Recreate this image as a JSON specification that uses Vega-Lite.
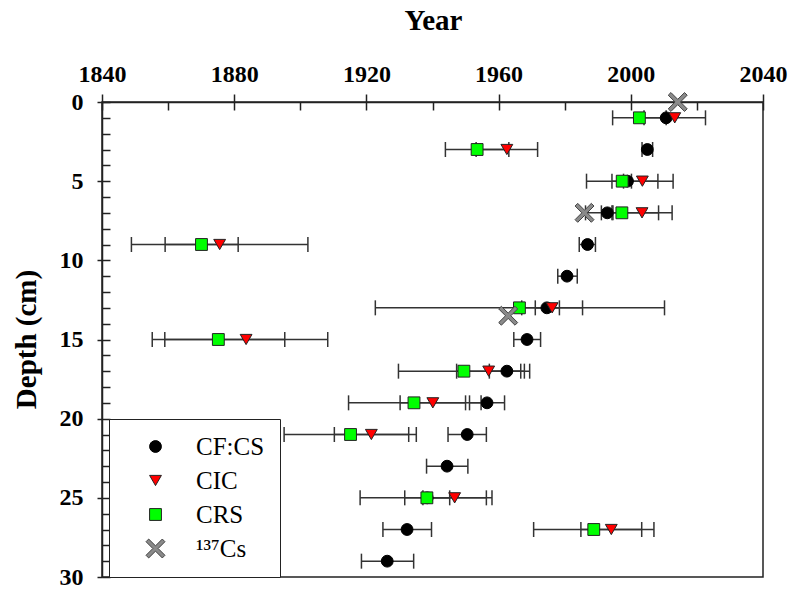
{
  "$schema": "https://vega.github.io/schema/vega-lite/v6.json",
  "width": 661,
  "height": 475,
  "autosize": {"type": "none"},
  "padding": {"left": 102, "top": 102, "right": 29, "bottom": 13},
  "background": "white",
  "config": {
    "view": {"stroke": "#222", "strokeWidth": 1.5},
    "font": "Liberation Serif",
    "axis": {"grid": false, "domainColor": "#222", "domainWidth": 1.5, "tickColor": "#222", "tickWidth": 1.5, "labelColor": "black", "titleColor": "black"}
  },
  "data": {"values": [
    {"series": "CF:CS", "depth": 1, "year": 2010.7, "lo": null, "hi": null},
    {"series": "CF:CS", "depth": 3, "year": 2005.0, "lo": 2003.4, "hi": 2006.6},
    {"series": "CF:CS", "depth": 5, "year": 1999.0, "lo": 1997.8, "hi": 2000.2},
    {"series": "CF:CS", "depth": 7, "year": 1992.9, "lo": 1991.1, "hi": 1994.6},
    {"series": "CF:CS", "depth": 9, "year": 1986.9, "lo": 1984.4, "hi": 1989.3},
    {"series": "CF:CS", "depth": 11, "year": 1980.7, "lo": 1977.9, "hi": 1983.8},
    {"series": "CF:CS", "depth": 13, "year": 1974.6, "lo": 1971.1, "hi": 1978.4},
    {"series": "CF:CS", "depth": 15, "year": 1968.6, "lo": 1964.6, "hi": 1972.7},
    {"series": "CF:CS", "depth": 17, "year": 1962.5, "lo": 1957.2, "hi": 1967.8},
    {"series": "CF:CS", "depth": 19, "year": 1956.5, "lo": 1951.2, "hi": 1961.8},
    {"series": "CF:CS", "depth": 21, "year": 1950.5, "lo": 1944.7, "hi": 1956.3},
    {"series": "CF:CS", "depth": 23, "year": 1944.4, "lo": 1938.2, "hi": 1950.7},
    {"series": "CF:CS", "depth": 25, "year": 1938.4, "lo": 1931.6, "hi": 1945.2},
    {"series": "CF:CS", "depth": 27, "year": 1932.3, "lo": 1925.0, "hi": 1939.7},
    {"series": "CF:CS", "depth": 29, "year": 1926.3, "lo": 1918.5, "hi": 1934.3},
    {"series": "CIC", "depth": 1, "year": 2013.3, "lo": 2004.0, "hi": 2022.6},
    {"series": "CIC", "depth": 3, "year": 1962.5, "lo": 1953.2, "hi": 1971.8},
    {"series": "CIC", "depth": 5, "year": 2003.5, "lo": 1994.3, "hi": 2012.8},
    {"series": "CIC", "depth": 7, "year": 2003.4, "lo": 1994.3, "hi": 2012.5},
    {"series": "CIC", "depth": 9, "year": 1875.6, "lo": 1848.9, "hi": 1902.3},
    {"series": "CIC", "depth": 13, "year": 1976.2, "lo": 1967.0, "hi": 1985.4},
    {"series": "CIC", "depth": 15, "year": 1883.6, "lo": 1859.0, "hi": 1908.3},
    {"series": "CIC", "depth": 17, "year": 1957.0, "lo": 1947.3, "hi": 1966.7},
    {"series": "CIC", "depth": 19, "year": 1940.1, "lo": 1930.2, "hi": 1950.0},
    {"series": "CIC", "depth": 21, "year": 1921.5, "lo": 1910.3, "hi": 1932.8},
    {"series": "CIC", "depth": 25, "year": 1946.7, "lo": 1937.1, "hi": 1956.3},
    {"series": "CIC", "depth": 27, "year": 1994.1, "lo": 1984.9, "hi": 2003.3},
    {"series": "CRS", "depth": 1, "year": 2002.6, "lo": 1994.5, "hi": 2010.7},
    {"series": "CRS", "depth": 3, "year": 1953.5, "lo": 1943.9, "hi": 1963.1},
    {"series": "CRS", "depth": 5, "year": 1997.4, "lo": 1986.6, "hi": 2008.2},
    {"series": "CRS", "depth": 7, "year": 1997.3, "lo": 1986.3, "hi": 2008.4},
    {"series": "CRS", "depth": 9, "year": 1870.1, "lo": 1859.1, "hi": 1881.2},
    {"series": "CRS", "depth": 13, "year": 1966.3, "lo": 1922.7, "hi": 2010.2},
    {"series": "CRS", "depth": 15, "year": 1875.2, "lo": 1855.2, "hi": 1895.3},
    {"series": "CRS", "depth": 17, "year": 1949.5, "lo": 1929.7, "hi": 1969.4},
    {"series": "CRS", "depth": 19, "year": 1934.4, "lo": 1914.6, "hi": 1954.7},
    {"series": "CRS", "depth": 21, "year": 1915.2, "lo": 1895.1, "hi": 1935.1},
    {"series": "CRS", "depth": 25, "year": 1938.3, "lo": 1918.1, "hi": 1958.0},
    {"series": "CRS", "depth": 27, "year": 1988.8, "lo": 1970.6, "hi": 2007.0},
    {"series": "¹³⁷Cs", "depth": 0, "year": 2014.2, "lo": null, "hi": null},
    {"series": "¹³⁷Cs", "depth": 7, "year": 1986.0, "lo": null, "hi": null},
    {"series": "¹³⁷Cs", "depth": 13.5, "year": 1962.9, "lo": null, "hi": null}
  ]},
  "resolve": {"axis": {"x": "independent", "y": "independent"}},
  "layer": [
    {
      "transform": [{"filter": "isValid(datum.lo)"}],
      "mark": {"type": "rule", "color": "#333", "strokeWidth": 1.5},
      "encoding": {
        "x": {"field": "lo", "type": "quantitative",
          "scale": {"domain": [1840, 2040], "nice": false, "zero": false},
          "axis": {"orient": "top", "values": [1840, 1880, 1920, 1960, 2000, 2040], "format": "d", "tickSize": 8, "labelPadding": 12.7, "labelBaseline": "alphabetic", "labelFontSize": 24, "labelFontWeight": "bold", "labelFlush": false, "title": "Year", "titleFontSize": 29, "titleFontWeight": "bold", "titleX": 331, "titleY": -73, "titleBaseline": "alphabetic", "titleAnchor": "middle"}},
        "x2": {"field": "hi"},
        "y": {"field": "depth", "type": "quantitative",
          "scale": {"domain": [0, 30], "reverse": true, "nice": false, "zero": false},
          "axis": {"orient": "left", "values": [0, 5, 10, 15, 20, 25, 30], "format": "d", "tickSize": 5, "labelPadding": 14, "labelFontSize": 24, "labelFontWeight": "bold", "labelFlush": false, "title": "Depth (cm)", "titleFontSize": 29, "titleFontWeight": "bold", "titleX": -67, "titleY": 237, "titleBaseline": "alphabetic", "titleAngle": -90, "titleAnchor": "middle"}}
      }
    },
    {
      "transform": [{"fold": ["lo", "hi"], "as": ["end", "val"]}, {"filter": "isValid(datum.val)"}],
      "mark": {"type": "point", "shape": "M0,-1L0,1", "size": 225, "stroke": "#333", "strokeWidth": 1.5, "opacity": 1},
      "encoding": {
        "x": {"field": "val", "type": "quantitative",
          "axis": {"orient": "top", "values": [1840, 1860, 1880, 1900, 1920, 1940, 1960, 1980, 2000, 2020, 2040], "tickSize": -8, "labels": false, "domain": false, "title": null}},
        "y": {"field": "depth", "type": "quantitative",
          "axis": {"orient": "left", "values": [0,1,2,3,4,5,6,7,8,9,10,11,12,13,14,15,16,17,18,19,20,21,22,23,24,25,26,27,28,29,30], "tickSize": -8, "labels": false, "domain": false, "title": null}}
      }
    },
    {
      "mark": {"type": "point", "size": 140, "strokeWidth": 1, "opacity": 1, "fillOpacity": 1},
      "encoding": {
        "x": {"field": "year", "type": "quantitative", "axis": null},
        "y": {"field": "depth", "type": "quantitative", "axis": null},
        "shape": {"field": "series", "type": "nominal",
          "scale": {"domain": ["CF:CS", "CIC", "CRS", "¹³⁷Cs"], "range": ["circle", "triangle-down", "square", "M-1.6,-1.15L-1.15,-1.6L0,-0.45L1.15,-1.6L1.6,-1.15L0.45,0L1.6,1.15L1.15,1.6L0,0.45L-1.15,1.6L-1.6,1.15L-0.45,0Z"]},
          "legend": {"title": null, "orient": "none", "legendX": 7, "legendY": 317, "fillColor": "white", "strokeColor": "#222", "padding": 15, "labelFont": "Liberation Serif", "labelFontSize": 25, "labelColor": "black", "labelOffset": 28, "symbolOffset": 19, "rowPadding": 8, "symbolSize": 140, "symbolStrokeWidth": 1}},
        "fill": {"field": "series", "type": "nominal",
          "scale": {"domain": ["CF:CS", "CIC", "CRS", "¹³⁷Cs"], "range": ["#000000", "#ff0000", "#00ff00", "#8a8a8a"]}},
        "stroke": {"field": "series", "type": "nominal",
          "scale": {"domain": ["CF:CS", "CIC", "CRS", "¹³⁷Cs"], "range": ["#000000", "#222222", "#222222", "#444444"]}}
      }
    }
  ]
}
